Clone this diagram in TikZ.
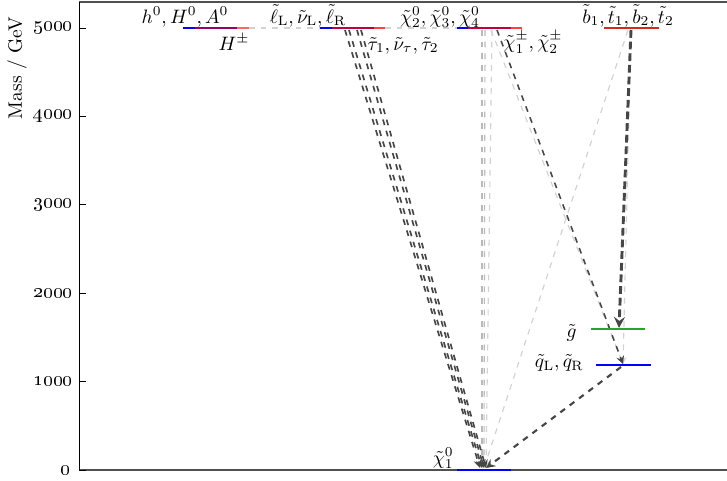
\documentclass[tikz,border=0pt]{standalone}
\usepackage{tikz}

\definecolor{lvblue}{RGB}{0,0,255}
\definecolor{lvred}{RGB}{255,0,0}
\definecolor{lvstop}{RGB}{205,45,25}
\definecolor{lvgreen}{RGB}{40,165,40}
\definecolor{dkgray}{RGB}{70,70,70}
\definecolor{midgray}{RGB}{185,185,185}
\definecolor{ltgray}{RGB}{210,210,210}
\definecolor{axgray}{RGB}{80,80,80}

\begin{document}
\begin{tikzpicture}[>=stealth,x=0.515pt,y=0.515pt,
  level/.style={line width=1.1pt},
  heavy/.style={dkgray,dashed,line width=1pt,->},
  faint/.style={ltgray,dashed,line width=0.6pt,->},
  lab/.style={inner sep=1pt}]

\useasboundingbox (0,0) rectangle (727,480);

% Origin
\def\ox{79}
\def\oy{10}
\def\xr{727}
\def\yt{478}

% Pre-computed y-positions (10 + 0.0884 per GeV)
\def\yA{10}     % 0
\def\yB{98.4}   % 1000
\def\yC{186.8}  % 2000
\def\yD{275.2}  % 3000
\def\yE{363.6}  % 4000
\def\yF{452}    % 5000
\def\yGl{151}   % gluino
\def\ySq{115}   % squarks

% Frame
\draw[axgray,line width=0.8pt] (\ox,\yt) -- (\xr,\yt);
\draw[axgray,line width=0.6pt] (\ox,\oy) -- (\xr,\oy);
\draw[black,line width=0.5pt] (\ox,\oy) -- (\ox,\yt);

% Ticks + labels
\draw (\ox,\yA) -- (\ox+7,\yA); \node[anchor=east,lab] (t0) at (73,\yA) {\oldstylenums{0}};
\draw (\ox,\yB) -- (\ox+7,\yB); \node[anchor=east,lab] (t1) at (75,\yB) {\oldstylenums{1000}};
\draw (\ox,\yC) -- (\ox+7,\yC); \node[anchor=east,lab] (t2) at (75,\yC) {\oldstylenums{2000}};
\draw (\ox,\yD) -- (\ox+7,\yD); \node[anchor=east,lab] (t3) at (75,\yD) {\oldstylenums{3000}};
\draw (\ox,\yE) -- (\ox+7,\yE); \node[anchor=east,lab] (t4) at (75,\yE) {\oldstylenums{4000}};
\draw (\ox,\yF) -- (\ox+7,\yF); \node[anchor=east,lab] (t5) at (75,\yF) {\oldstylenums{5000}};

% Axis label
\node[rotate=90] (ylab) at (17,412) {Mass / GeV};

% Level end points
\coordinate (hL) at (183,\yF);  \coordinate (hR) at (249,\yF);
\coordinate (slL) at (320,\yF); \coordinate (slR) at (385,\yF);
\coordinate (neL) at (457,\yF); \coordinate (neR) at (522,\yF);
\coordinate (stL) at (604,\yF); \coordinate (stR) at (659,\yF);
\coordinate (glL) at (591,\yGl); \coordinate (glR) at (645,\yGl);
\coordinate (sqL) at (596,\ySq); \coordinate (sqR) at (651,\ySq);
\coordinate (lspL) at (457,\yA); \coordinate (lspR) at (511,\yA);

% Decay start / end points
\coordinate (sl1) at (345,450); \coordinate (sl2) at (349,450);
\coordinate (sl3) at (357,450); \coordinate (sl4) at (361,450);
\coordinate (ne1) at (482,450); \coordinate (ne2) at (485,450);
\coordinate (ne3) at (492,450);
\coordinate (ch1) at (491,450); \coordinate (ch2) at (497,450);
\coordinate (st1) at (628,450); \coordinate (st2) at (631,450);
\coordinate (gl) at (619,152);
\coordinate (sq) at (623,116);
\coordinate (sqo) at (621,113);
\coordinate (lsp1) at (480,12); \coordinate (lsp2) at (482,12);
\coordinate (lsp3) at (484,12); \coordinate (lsp4) at (486,12);

% Light connectors
\draw[ltgray,dashed,line width=0.6pt] (hR) -- (slL);
\draw[ltgray,dashed,line width=0.6pt] (slR) -- (neL);
\draw[faint,midgray] (ne1) -- (lsp2);
\draw[faint,midgray] (ne2) -- (lsp3);
\draw[faint] (ne3) -- (lsp4);
\draw[faint] (ch1) -- (sq);
\draw[faint] (st1) -- (lsp3);
\draw[faint] (st2) -- (sq);

% Dark connectors
\draw[heavy,line width=0.85pt] (sl1) -- (lsp1);
\draw[heavy,line width=0.85pt] (sl2) -- (lsp2);
\draw[heavy,line width=0.85pt] (sl3) -- (lsp3);
\draw[heavy,line width=0.85pt] (sl4) -- (lsp4);
\draw[heavy,line width=0.8pt] (ch2) -- (sq);
\draw[heavy,line width=1.5pt,dash pattern=on 4pt off 2pt] (st2) -- (gl);
\draw[heavy,line width=1.1pt] (sqo) -- (lsp4);

% Levels
\draw[level,lvblue] (hL) -- (237,\yF);
\draw[level,lvred,opacity=0.6] (195,\yF) -- (hR);
\draw[level,lvblue] (slL) -- (374,\yF);
\draw[level,lvred,opacity=0.75] (332,\yF) -- (slR);
\draw[level,lvblue] (neL) -- (511,\yF);
\draw[level,lvred,opacity=0.75] (468,\yF) -- (neR);
\draw[level,lvstop] (stL) -- (stR);
\draw[level,lvgreen,line width=0.8pt] (glL) -- (glR);
\draw[level,lvblue] (sqL) -- (sqR);
\draw[level,lvblue] (lspL) -- (lspR);

% Labels
\node[anchor=base,lab] (hlab) at (185,457) {$h^0, H^0, A^0$};
\node[anchor=base,lab] (hpm) at (234,430) {$H^\pm$};
\node[anchor=base,lab] (sllab) at (308,457) {$\tilde{\ell}_{\mathrm{L}}, \tilde{\nu}_{\mathrm{L}}, \tilde{\ell}_{\mathrm{R}}$};
\node[anchor=base,lab] (taulab) at (403,430) {$\tilde{\tau}_1, \tilde{\nu}_\tau, \tilde{\tau}_2$};
\node[anchor=base,lab] (neulab) at (440,457) {$\tilde{\chi}^0_2, \tilde{\chi}^0_3, \tilde{\chi}^0_4$};
\node[anchor=base,lab] (chlab) at (533,432) {$\tilde{\chi}^\pm_1, \tilde{\chi}^\pm_2$};
\node[anchor=base,lab] (stlab) at (628,457) {$\tilde{b}_1, \tilde{t}_1, \tilde{b}_2, \tilde{t}_2$};
\node[anchor=east,lab] (gllab) at (579,147) {$\tilde{g}$};
\node[anchor=east,lab] (sqlab) at (586,117) {$\tilde{q}_{\mathrm{L}}, \tilde{q}_{\mathrm{R}}$};
\node[anchor=base east,lab] (lsplab) at (456,16) {$\tilde{\chi}^0_1$};

\end{tikzpicture}
\end{document}
